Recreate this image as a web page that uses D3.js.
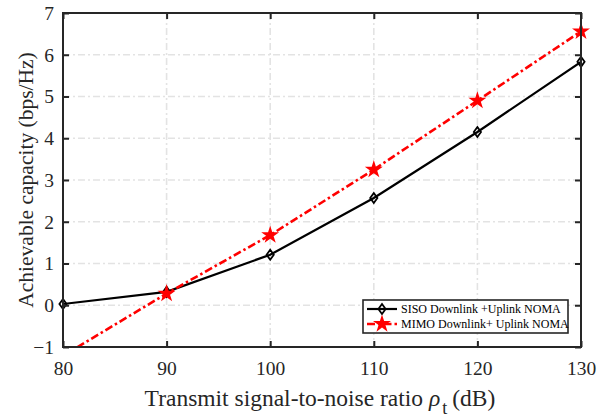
<!DOCTYPE html>
<html><head><meta charset="utf-8">
<script src="https://cdn.jsdelivr.net/npm/d3@7"></script>
<style>body{margin:0;background:#fff}svg{display:block}</style>
</head><body><svg id="c" width="610" height="420"></svg>
<script>
const snr = [80, 90, 100, 110, 120, 130];
const sisoValues = [0.03, 0.32, 1.21, 2.57, 4.15, 5.83];
const mimoValues = [-1.21, 0.28, 1.68, 3.25, 4.9, 6.56];
const xTicks = [80, 90, 100, 110, 120, 130];
const yTicks = [-1, 0, 1, 2, 3, 4, 5, 6, 7];
const seriesNames = ["SISO Downlink +Uplink NOMA", "MIMO Downlink+ Uplink NOMA"];

const FONT = "'Liberation Serif', 'Times New Roman', Times, 'DejaVu Serif', serif";
const svg = d3.select("#c");
const m = {l: 63, r: 581, t: 13, b: 347};
const x = d3.scaleLinear().domain([80, 130]).range([m.l, m.r]);
const y = d3.scaleLinear().domain([-1, 7]).range([m.b, m.t]);

svg.append("defs").append("clipPath").attr("id", "clip")
  .append("rect").attr("x", m.l).attr("y", m.t).attr("width", m.r - m.l).attr("height", m.b - m.t);

// grid
const g = svg.append("g");
g.selectAll(".gx").data(xTicks.slice(1, -1)).join("line")
  .attr("x1", d => x(d)).attr("x2", d => x(d)).attr("y1", m.t).attr("y2", m.b)
  .attr("stroke", "#e3e3e3").attr("stroke-width", 1.6).attr("stroke-dasharray", "7,3,2,3");
g.selectAll(".gy").data(yTicks.slice(1, -1)).join("line")
  .attr("y1", d => y(d)).attr("y2", d => y(d)).attr("x1", m.l).attr("x2", m.r)
  .attr("stroke", "#e3e3e3").attr("stroke-width", 1.6).attr("stroke-dasharray", "7,3,2,3");

// lines
const line = d3.line().x((d, i) => x(snr[i])).y(d => y(d));
const pl = svg.append("g").attr("clip-path", "url(#clip)");
pl.append("path").datum(sisoValues).attr("d", line).attr("fill", "none")
  .attr("stroke", "#000").attr("stroke-width", 2.2);
pl.append("path").datum(mimoValues).attr("d", line).attr("fill", "none")
  .attr("stroke", "#ff0000").attr("stroke-width", 2.6).attr("stroke-dasharray", "8,3,2.5,3");

// markers
const diamond = "M0,-5L3.6,0L0,5L-3.6,0Z";
const star = d3.symbol().type(d3.symbolStar).size(100)();
const mk = svg.append("g");
mk.selectAll(".dm").data(sisoValues).join("path")
  .attr("transform", (d, i) => `translate(${x(snr[i])},${y(d)})`)
  .attr("d", diamond).attr("fill", "none").attr("stroke", "#000").attr("stroke-width", 1.8);
mk.selectAll(".st").data(mimoValues.map((v, i) => [snr[i], v]).filter(p => p[1] >= -1)).join("path")
  .attr("transform", p => `translate(${x(p[0])},${y(p[1])})`)
  .attr("d", star).attr("fill", "#ff0000");

// axes box
const ax = svg.append("g");
const axB = d3.axisBottom(x).tickValues(xTicks).tickSize(-6).tickPadding(14);
const axT = d3.axisTop(x).tickValues(xTicks).tickSize(-6).tickFormat("");
const axL = d3.axisLeft(y).tickValues(yTicks).tickSize(-6).tickPadding(9);
const axR = d3.axisRight(y).tickValues(yTicks).tickSize(-6).tickFormat("");
function style(sel) {
  sel.attr("font-family", null);
  sel.select(".domain").attr("stroke", "#262626").attr("stroke-width", 2);
  sel.selectAll(".tick line").attr("stroke", "#262626").attr("stroke-width", 2);
  sel.selectAll(".tick text").style("font-size", "19.5px").style("fill", "#262626")
    .style("font-family", FONT);
}
ax.append("g").attr("transform", `translate(0,${m.b})`).call(axB).call(style);
ax.append("g").attr("transform", `translate(0,${m.t})`).call(axT).call(style);
ax.append("g").attr("transform", `translate(${m.l},0)`).call(axL).call(style);
ax.append("g").attr("transform", `translate(${m.r},0)`).call(axR).call(style);
ax.selectAll(".domain").attr("d", null);
ax.append("rect").attr("x", m.l).attr("y", m.t).attr("width", m.r - m.l).attr("height", m.b - m.t)
  .attr("fill", "none").attr("stroke", "#262626").attr("stroke-width", 2);

// labels
const xl = svg.append("text").attr("x", 320).attr("y", 406)
  .attr("text-anchor", "middle").style("font-size", "23.5px").style("font-family", FONT).style("fill", "#262626");
xl.append("tspan").text("Transmit signal-to-noise ratio ");
xl.append("tspan").style("font-style", "italic").text("ρ");
xl.append("tspan").style("font-size", "18px").attr("dy", 8).attr("dx", 2).text("t");
xl.append("tspan").attr("dy", -8).attr("dx", 5).text("(dB)");
svg.append("text").attr("transform", `translate(33,180) rotate(-90)`)
  .attr("text-anchor", "middle").style("font-size", "21.5px").style("font-family", FONT).style("fill", "#262626")
  .text("Achievable capacity (bps/Hz)");

// legend
const lg = svg.append("g").attr("transform", "translate(363,300)");
lg.append("rect").attr("width", 205).attr("height", 33).attr("fill", "#fff")
  .attr("stroke", "#262626").attr("stroke-width", 1.6);
lg.append("line").attr("x1", 4).attr("x2", 34).attr("y1", 9).attr("y2", 9).attr("stroke", "#000").attr("stroke-width", 2.2);
lg.append("path").attr("transform", "translate(19,9)").attr("d", diamond).attr("fill", "none").attr("stroke", "#000").attr("stroke-width", 1.8);
lg.append("line").attr("x1", 4).attr("x2", 34).attr("y1", 24).attr("y2", 24).attr("stroke", "#ff0000").attr("stroke-width", 2.6).attr("stroke-dasharray", "8,3,2.5,3");
lg.append("path").attr("transform", "translate(19,24)").attr("d", star).attr("fill", "#ff0000");
lg.selectAll(".lt").data(seriesNames).join("text").attr("x", 38).attr("y", (d, i) => 13 + i * 15)
  .style("font-size", "12px").style("font-family", FONT).style("fill", "#000").text(d => d);
</script></body></html>
